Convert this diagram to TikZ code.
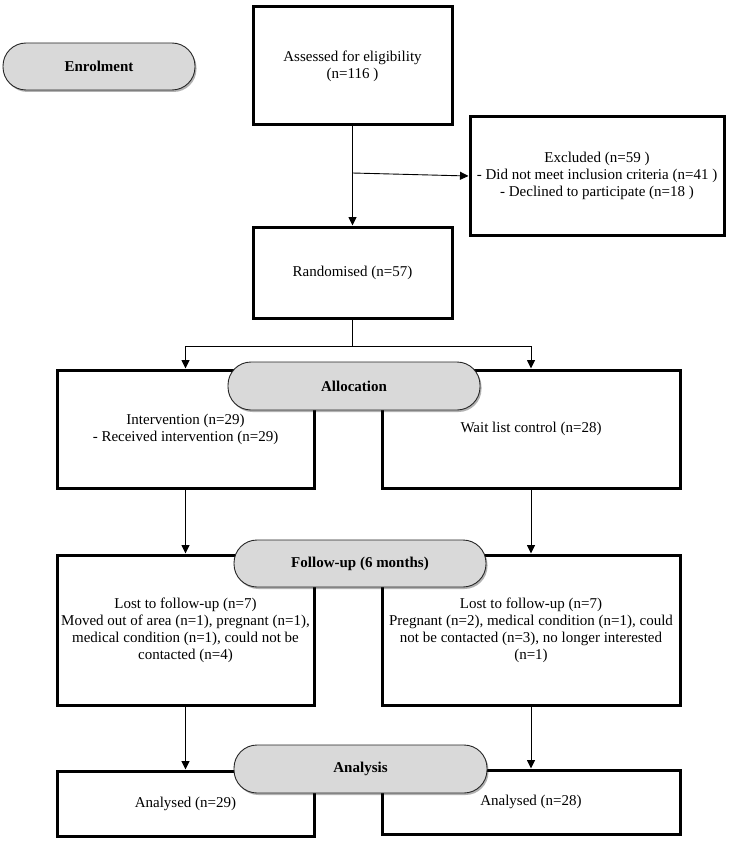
\documentclass[tikz,border=0pt]{standalone}
\usepackage{fontspec}
\setmainfont{Liberation Serif}
\usetikzlibrary{arrows.meta,shadows}
\begin{document}
\begin{tikzpicture}[x=1pt,y=-1pt,
  txt/.style={font=\fontsize{15}{17}\selectfont},
  box/.style={draw=black, line width=3pt, fill=white, align=center, inner sep=2pt,
    txt, drop shadow={shadow xshift=1.5pt, shadow yshift=-1.5pt, opacity=0.25, fill=black}},
  pill/.style={draw=black!85, line width=0.9pt, fill=black!15, rounded corners=23pt,
    align=center, font=\fontsize{15}{17}\selectfont\bfseries,
    drop shadow={shadow xshift=1.5pt, shadow yshift=-2pt, opacity=0.3, fill=black}},
  arr/.style={line width=0.9pt, -{Triangle[length=8.5pt,width=8pt]}},
  ln/.style={line width=0.9pt}
]
\useasboundingbox (0,0) rectangle (738,845);

% boxes
\node[box, minimum width=199pt, minimum height=118pt] (assess) at (352.5,66)
  {Assessed for eligibility\\(n=116 )};
\node[box, minimum width=254pt, minimum height=118pt] (excl) at (597,176)
  {Excluded (n=59 )\\- Did not meet inclusion criteria (n=41 )\\- Declined to participate (n=18 )};
\node[box, minimum width=199pt, minimum height=91pt] (rand) at (352.5,272.5)
  {Randomised (n=57)};
\node[box, minimum width=257pt, minimum height=118pt] (int) at (185.5,429)
  {Intervention (n=29)\\- Received intervention (n=29)};
\node[box, minimum width=298pt, minimum height=118pt] (wait) at (531,429)
  {Wait list control (n=28)};
\node[box, minimum width=257pt, minimum height=150pt] (lost1) at (185.5,630)
  {Lost to follow-up (n=7)\\Moved out of area (n=1), pregnant (n=1),\\medical condition (n=1), could not be\\contacted (n=4)};
\node[box, minimum width=298pt, minimum height=150pt] (lost2) at (531,630)
  {Lost to follow-up (n=7)\\Pregnant (n=2), medical condition (n=1), could\\not be contacted (n=3), no longer interested\\(n=1)};
\node[box, minimum width=257pt, minimum height=65pt] (an1) at (185.5,803.5)
  {Analysed (n=29)};
\node[box, minimum width=298pt, minimum height=64pt] (an2) at (531,802)
  {Analysed (n=28)};

% connectors
\coordinate (j1) at (352.5,173);
\coordinate (split) at (352.5,346);
\draw[arr] (assess.south) -- (rand.north);
\draw[arr] (j1) -- (excl.west);
\draw[ln] (rand.south) -- (split);
\draw[arr] (split) -| (int.north);
\draw[arr] (split) -| (wait.north);
\draw[arr] (int.south) -- (lost1.north);
\draw[arr] (wait.south) -- (lost2.north);
\draw[arr] (lost1.south) -- (an1.north);
\draw[arr] (lost2.south) -- (an2.north);

% stage pills
\node[pill, minimum width=192pt, minimum height=47pt] (enrol) at (99,66.5) {Enrolment};
\node[pill, minimum width=252pt, minimum height=48pt] (alloc) at (354,386) {Allocation};
\node[pill, minimum width=252pt, minimum height=47pt] (follow) at (360,563.5) {Follow-up (6 months)};
\node[pill, minimum width=253pt, minimum height=48pt] (analysis) at (360.5,769) {Analysis};
\end{tikzpicture}
\end{document}
